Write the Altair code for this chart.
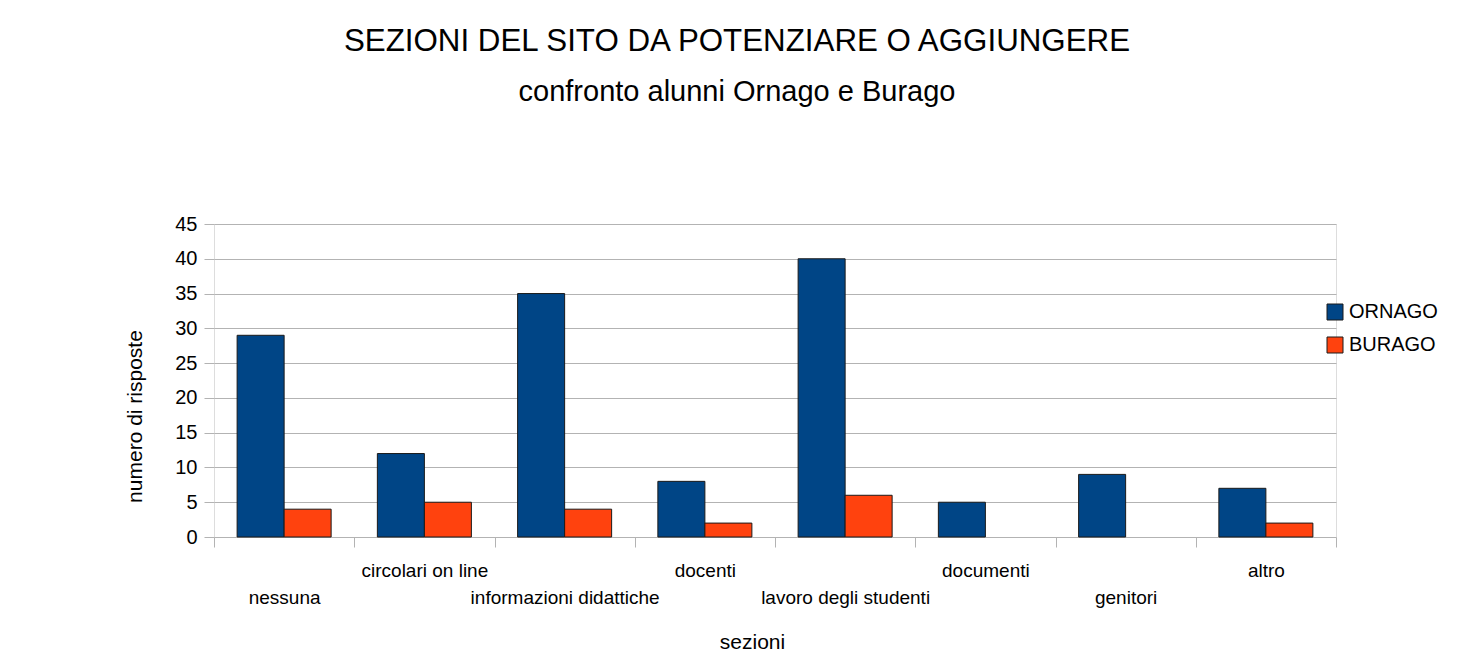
import altair as alt
import pandas as pd

categories = ["nessuna", "circolari on line", "informazioni didattiche", "docenti",
              "lavoro degli studenti", "documenti", "genitori", "altro"]
ornago = [29, 12, 35, 8, 40, 5, 9, 7]
burago = [4, 5, 4, 2, 6, 0, 0, 2]
series = ["ORNAGO", "BURAGO"]
colors = ["#004586", "#ff420e"]
y_ticks = [0, 5, 10, 15, 20, 25, 30, 35, 40, 45]

rows = []
for c, o, b in zip(categories, ornago, burago):
    rows.append({"sezione": c, "serie": "ORNAGO", "valore": o})
    rows.append({"sezione": c, "serie": "BURAGO", "valore": b})
df = pd.DataFrame(rows)

lower_row = categories[0::2]
lower_list = "[" + ",".join("'" + s + "'" for s in lower_row) + "]"
label_expr = f"indexof({lower_list}, datum.value) >= 0 ? ['', datum.value] : datum.value"

FONT = "Liberation Sans"
GRID = "#b3b3b3"

chart = alt.Chart(df).transform_filter(
    alt.datum.valore > 0
).mark_bar(stroke="#1a1a1a", strokeWidth=1).encode(
    x=alt.X("sezione:N", sort=categories,
            scale=alt.Scale(paddingInner=0, paddingOuter=0),
            axis=alt.Axis(title="sezioni", labelAngle=0, labelExpr=label_expr,
                          labelOverlap=False, labelLimit=0, labelFontSize=19,
                          labelLineHeight=27, labelPadding=14, labelColor="#000000",
                          labelFont=FONT,
                          tickBand="extent", ticks=True, tickSize=10, tickColor=GRID,
                          domain=False, grid=False,
                          titleFontSize=21, titleFont=FONT, titleFontWeight="normal",
                          titleColor="#000000", titleX=538, titleY=111,
                          titleAlign="center", titleBaseline="alphabetic")),
    xOffset=alt.XOffset("serie:N", sort=series,
                        scale=alt.Scale(domain=series, paddingInner=0, paddingOuter=0.492)),
    y=alt.Y("valore:Q", scale=alt.Scale(domain=[0, 45], nice=False),
            axis=alt.Axis(title="numero di risposte", values=y_ticks,
                          labelFontSize=20, labelColor="#000000", labelFont=FONT,
                          labelPadding=7, tickSize=10, tickColor=GRID,
                          gridColor=GRID, domain=False,
                          titleFontSize=21, titleFont=FONT, titleFontWeight="normal",
                          titleColor="#000000", titleX=-73, titleY=192,
                          titleAngle=-90, titleAlign="center", titleBaseline="alphabetic")),
    color=alt.Color("serie:N", sort=series,
                    scale=alt.Scale(domain=series, range=colors),
                    legend=alt.Legend(title=None, orient="none", legendX=1111, legendY=78,
                                      symbolType="square", symbolSize=256,
                                      symbolStrokeColor="#1a1a1a", symbolStrokeWidth=1,
                                      labelFontSize=20, labelFont=FONT, labelColor="#000000",
                                      rowPadding=13, labelOffset=4)),
).properties(
    width=1122,
    height=313,
    title=alt.TitleParams(
        text="SEZIONI DEL SITO DA POTENZIARE O AGGIUNGERE",
        subtitle="confronto alunni Ornago e Burago",
        fontSize=31.3, font=FONT, fontWeight="normal", color="#000000",
        subtitleFontSize=29, subtitleFont=FONT, subtitleColor="#000000",
        subtitlePadding=21, anchor="middle", dx=-38, offset=107,
    ),
    autosize=alt.AutoSizeParams(type="none"),
    padding={"left": 206, "top": 216, "right": 119, "bottom": 125},
).configure_view(
    stroke=GRID, strokeWidth=1
).configure(background="#ffffff")

chart.save("out.html", embed_options={"renderer": "svg", "actions": False})
